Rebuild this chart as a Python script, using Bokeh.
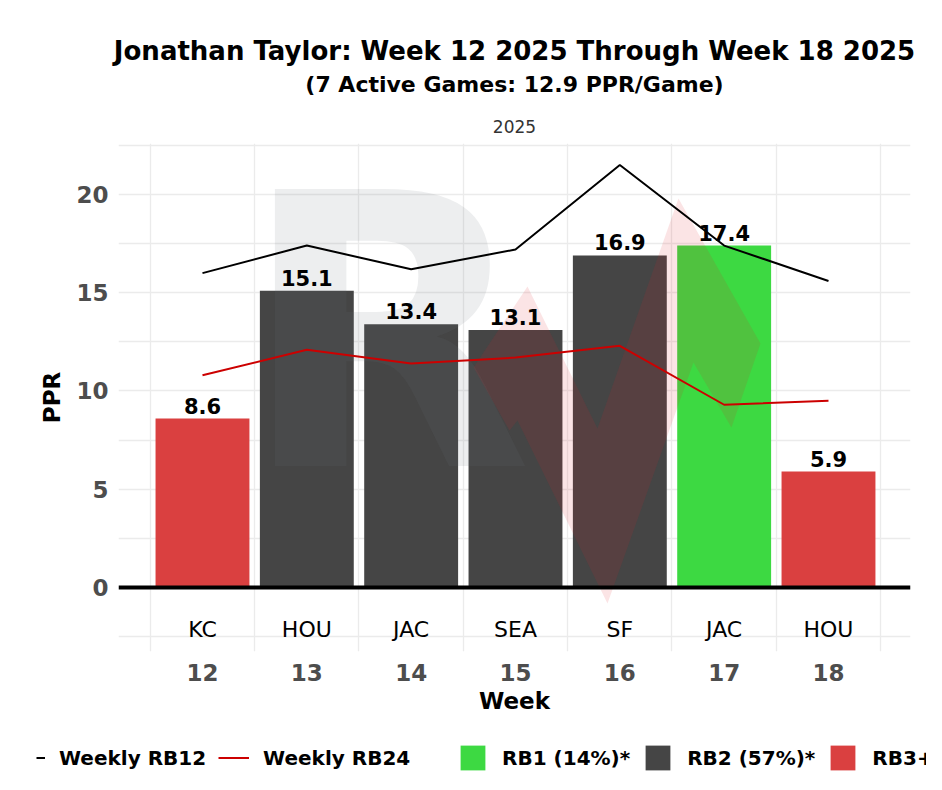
from bokeh.plotting import figure
from bokeh.models import (ColumnDataSource, Range1d, FixedTicker, Span, Label,
                          Legend, LegendItem)
from bokeh.core.properties import value
from bokeh.embed import file_html
from bokeh.resources import INLINE

NAN = float("nan")

# ---- data ----
weeks = [12, 13, 14, 15, 16, 17, 18]
opponents = ["KC", "HOU", "JAC", "SEA", "SF", "JAC", "HOU"]
ppr = [8.6, 15.1, 13.4, 13.1, 16.9, 17.4, 5.9]
tier = ["RB3+", "RB2", "RB2", "RB2", "RB2", "RB1", "RB3+"]
rb12 = [16.0, 17.4, 16.2, 17.2, 21.5, 17.4, 15.6]
rb24 = [10.8, 12.1, 11.4, 11.7, 12.3, 9.3, 9.5]
y_ticks = [0, 5, 10, 15, 20]
title_text = "Jonathan Taylor: Week 12 2025 Through Week 18 2025"
subtitle_text = "(7 Active Games: 12.9 PPR/Game)"
season = "2025"
tier_order = ["RB1", "RB2", "RB3+"]
tier_labels = {"RB1": "RB1 (14%)*", "RB2": "RB2 (57%)*", "RB3+": "RB3+ (29%)*"}

tier_colors = {"RB1": "#3DD942", "RB2": "#454545", "RB3+": "#DA4040"}
FONT = "DejaVu Sans"
W = 926


def blank_fig(h):
    f = figure(width=W, height=h, output_backend="svg", toolbar_location=None,
               x_range=Range1d(0, W), y_range=Range1d(h, 0),
               x_axis_type=None, y_axis_type=None, min_border=0)
    f.xgrid.visible = False
    f.ygrid.visible = False
    f.outline_line_color = None
    f.background_fill_color = "white"
    f.border_fill_color = "white"
    return f


# ---- header (titles) ----
HEAD_H = 143
head = blank_fig(HEAD_H)
head.add_layout(Label(x=514, y=50, text=title_text, text_font=FONT,
                      text_font_style="bold", text_font_size="26px",
                      text_color="black", text_align="center", text_baseline="middle"))
head.add_layout(Label(x=514, y=84, text=subtitle_text, text_font=FONT,
                      text_font_style="bold", text_font_size="22px",
                      text_color="black", text_align="center", text_baseline="middle"))
head.add_layout(Label(x=514, y=126, text=season, text_font=FONT,
                      text_font_size="17px", text_color="#333333",
                      text_align="center", text_baseline="middle"))

# ---- main chart ----
src = ColumnDataSource(dict(
    week=weeks, ppr=ppr, opp=opponents,
    lab=[f"{v:.1f}" for v in ppr],
    color=[tier_colors[t] for t in tier],
    opp_y=[-2.14] * len(weeks),
))

MAIN_H = 583
p = figure(width=W, height=MAIN_H, output_backend="svg", toolbar_location=None,
           x_range=Range1d(11.195, 18.786), y_range=Range1d(-3.257, 22.595),
           min_border_left=118, min_border_right=16, min_border_top=0,
           min_border_bottom=75)
p.background_fill_color = "white"
p.border_fill_color = "white"
p.outline_line_color = None

p.xgrid.ticker = FixedTicker(ticks=[w - 0.5 for w in weeks] + [weeks[-1] + 0.5])
p.ygrid.ticker = FixedTicker(ticks=[-2.5 + 2.5 * i for i in range(11)])
p.xgrid.grid_line_color = "#EBEBEB"
p.ygrid.grid_line_color = "#EBEBEB"
p.xgrid.grid_line_width = 1.3
p.ygrid.grid_line_width = 1.3

p.xaxis.ticker = FixedTicker(ticks=weeks)
p.yaxis.ticker = FixedTicker(ticks=y_ticks)
for ax in (p.xaxis[0], p.yaxis[0]):
    ax.axis_line_color = None
    ax.major_tick_line_color = None
    ax.minor_tick_line_color = None
    ax.major_tick_out = 0
    ax.major_tick_in = 0
    ax.minor_tick_out = 0
    ax.minor_tick_in = 0
    ax.major_label_text_font = FONT
    ax.major_label_text_font_style = "bold"
    ax.major_label_text_font_size = "23px"
    ax.major_label_text_color = "#4D4D4D"
    ax.axis_label_text_font = FONT
    ax.axis_label_text_font_style = "bold"
    ax.axis_label_text_font_size = "23px"
    ax.axis_label_text_color = "black"
p.xaxis.axis_label = "Week"
p.yaxis.axis_label = "PPR"
p.xaxis.major_label_standoff = 12
p.xaxis.axis_label_standoff = 4
p.yaxis.major_label_standoff = 10
p.yaxis.axis_label_standoff = 8

bars = p.vbar(x="week", top="ppr", bottom=0, width=0.9, source=src,
              fill_color="color", line_color=None)

# watermark logo (decorative)
p.text(x=[12.36], y=[12.87], text=["R"], text_font=value(FONT),
       text_font_style="bold", text_font_size="380px", text_color="#6E737A",
       text_alpha=0.12, text_align="left", text_baseline="middle")
bolt_x = [14.598, 15.115, 15.786, 16.562, 17.348, 17.070, 16.706, 15.882, 15.019, 14.943]
bolt_y = [11.20, 15.32, 8.09, 19.80, 12.42, 8.14, 11.45, -0.81, 8.50, 7.99]
p.patch(bolt_x, bolt_y, fill_color="#DC1E28", fill_alpha=0.12, line_color=None)

p.add_layout(Span(location=0, dimension="width", line_color="black", line_width=4))

p.line(weeks, rb12, line_color="black", line_width=2)
p.line(weeks, rb24, line_color="#CC0000", line_width=2)

p.text(x="week", y="ppr", text="lab", source=src, text_font=value(FONT),
       text_font_style="bold", text_font_size="21px", text_color="black",
       text_align="center", text_baseline="bottom", y_offset=-5)
p.text(x="week", y="opp_y", text="opp", source=src, text_font=value(FONT),
       text_font_size="22px", text_color="black", text_align="center",
       text_baseline="middle")

# ---- legend strip (proxy renderers hold no drawable points) ----
LEG_H = 48
leg = blank_fig(LEG_H)
k12 = leg.line([NAN], [NAN], line_color="black", line_width=2, line_dash="0 22 9 0")
k24 = leg.line([NAN], [NAN], line_color="#CC0000", line_width=2)
items = [LegendItem(label="Weekly RB12", renderers=[k12]),
         LegendItem(label="Weekly RB24     ", renderers=[k24])]
for t in tier_order:
    r = leg.vbar(x=[NAN], top=[NAN], width=1, fill_color=tier_colors[t], line_color=None)
    items.append(LegendItem(label=tier_labels[t], renderers=[r]))
legend = Legend(items=items, location=(14, 1), orientation="horizontal",
                glyph_width=31, glyph_height=31, label_standoff=14,
                spacing=12, padding=0, margin=0,
                border_line_color=None, background_fill_alpha=0,
                label_text_font=FONT, label_text_font_style="bold",
                label_text_font_size="20px", label_text_color="black")
leg.add_layout(legend)

open("out.html", "w").write(file_html([head, p, leg], INLINE))
